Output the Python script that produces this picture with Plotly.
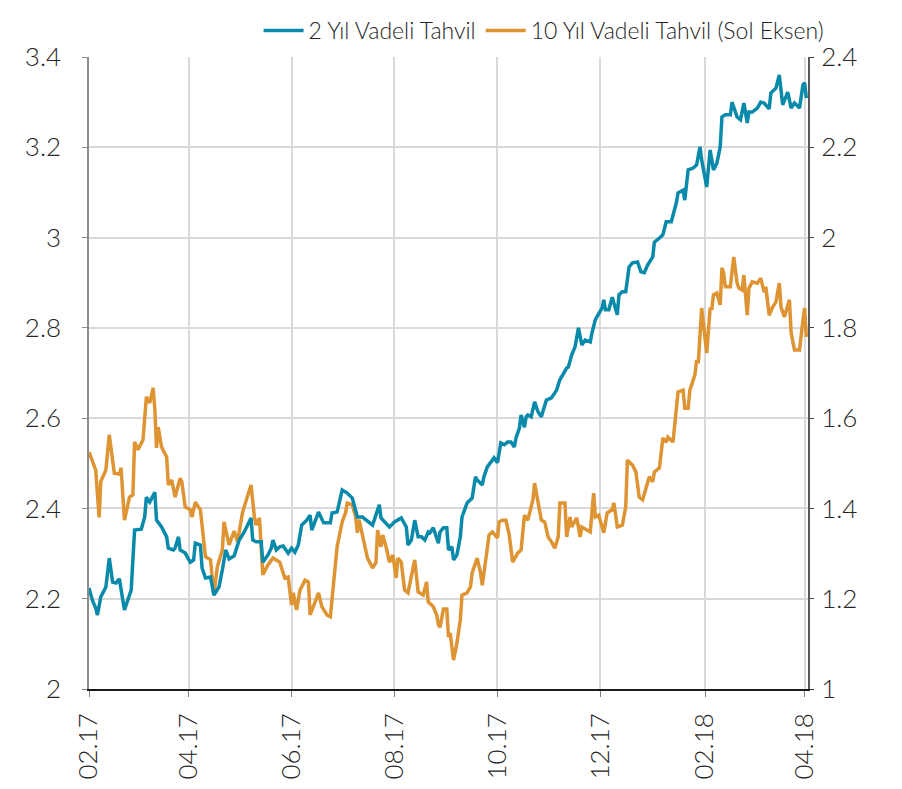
import pandas as pd
import plotly.graph_objects as go

START = "2017-02-01"

# 2 Yıl Vadeli Tahvil (right axis) – days since 2017-02-01 and yields
blue_days = [0, 2, 4, 5, 7, 10, 12, 14, 16, 18, 21, 25, 27, 31, 33, 34, 36, 39, 40, 43,
             46, 47, 50, 51, 53, 54, 57, 60, 62, 63, 66, 67, 69, 72, 74, 77, 79, 81, 83, 86,
             89, 92, 96, 97, 99, 102, 103, 106, 108, 109, 111, 113, 115, 118, 120, 122, 124, 126, 129, 131,
             132, 134, 136, 139, 143, 144, 147, 150, 153, 156, 157, 159, 162, 166, 168, 169, 172, 173, 175, 178,
             181, 183, 185, 188, 189, 191, 193, 195, 197, 199, 201, 202, 204, 207, 208, 210, 212, 213, 215, 216,
             218, 220, 221, 224, 227, 229, 230, 233, 234, 236, 239, 240, 242, 244, 246, 248, 250, 252, 253, 255,
             256, 258, 259, 260, 262, 264, 266, 268, 271, 274, 276, 277, 279, 281, 283, 284, 286, 288, 290, 292,
             294, 297, 298, 300, 301, 304, 305, 306, 308, 310, 313, 314, 316, 318, 320, 322, 325, 327, 329, 331,
             334, 335, 338, 340, 342, 343, 345, 348, 349, 352, 353, 355, 358, 360, 362, 363, 366, 368, 370, 372,
             374, 375, 377, 380, 381, 384, 386, 388, 390, 391, 393, 396, 398, 400, 403, 404, 407, 409, 410, 411,
             414, 416, 418, 421, 423, 424, 425]
blue_vals = [1.224, 1.197, 1.179, 1.164, 1.204, 1.226, 1.29, 1.237, 1.235, 1.244, 1.175, 1.219, 1.352, 1.354, 1.381, 1.425, 1.414, 1.436, 1.374, 1.359,
             1.337, 1.312, 1.308, 1.312, 1.337, 1.308, 1.301, 1.281, 1.286, 1.323, 1.319, 1.268, 1.246, 1.248, 1.208, 1.226, 1.264, 1.308, 1.288, 1.295,
             1.33, 1.348, 1.379, 1.33, 1.326, 1.326, 1.281, 1.297, 1.312, 1.33, 1.308, 1.315, 1.317, 1.301, 1.312, 1.303, 1.319, 1.363, 1.374, 1.385,
             1.352, 1.37, 1.392, 1.368, 1.368, 1.39, 1.392, 1.441, 1.434, 1.423, 1.408, 1.381, 1.381, 1.37, 1.363, 1.374, 1.408, 1.379, 1.37, 1.359,
             1.37, 1.374, 1.379, 1.359, 1.319, 1.33, 1.374, 1.337, 1.337, 1.33, 1.348, 1.346, 1.357, 1.323, 1.348, 1.357, 1.357, 1.308, 1.315, 1.286,
             1.297, 1.337, 1.381, 1.412, 1.423, 1.47, 1.463, 1.452, 1.47, 1.492, 1.507, 1.512, 1.501, 1.545, 1.541, 1.547, 1.547, 1.536, 1.556, 1.578,
             1.607, 1.58, 1.603, 1.607, 1.603, 1.636, 1.614, 1.603, 1.64, 1.645, 1.656, 1.662, 1.685, 1.7, 1.711, 1.713, 1.74, 1.758, 1.8, 1.762,
             1.773, 1.769, 1.789, 1.818, 1.824, 1.844, 1.862, 1.84, 1.84, 1.868, 1.829, 1.873, 1.88, 1.88, 1.935, 1.944, 1.946, 1.924, 1.922, 1.939,
             1.957, 1.99, 1.999, 2.006, 2.035, 2.035, 2.035, 2.077, 2.099, 2.105, 2.083, 2.15, 2.154, 2.161, 2.201, 2.172, 2.112, 2.194, 2.15, 2.165,
             2.201, 2.267, 2.272, 2.272, 2.3, 2.267, 2.261, 2.298, 2.254, 2.278, 2.278, 2.287, 2.3, 2.298, 2.285, 2.32, 2.331, 2.36, 2.32, 2.294,
             2.322, 2.287, 2.298, 2.287, 2.338, 2.343, 2.309]

# 10 Yıl Vadeli Tahvil (left axis)
orange_days = [0, 4, 6, 7, 10, 12, 15, 18, 19, 21, 24, 26, 27, 29, 32, 34, 36, 38, 39, 40,
               41, 43, 46, 47, 49, 51, 54, 55, 57, 60, 61, 63, 66, 69, 72, 74, 76, 79, 80, 83,
               86, 88, 91, 94, 96, 98, 99, 101, 103, 106, 109, 113, 116, 118, 120, 121, 123, 125, 128, 130,
               131, 134, 136, 138, 141, 143, 145, 147, 150, 152, 153, 156, 158, 159, 160, 165, 168, 170, 171, 173,
               174, 176, 178, 180, 182, 183, 185, 187, 189, 191, 193, 195, 198, 200, 201, 204, 206, 207, 208, 210,
               212, 213, 214, 216, 218, 220, 221, 224, 226, 227, 230, 232, 233, 236, 237, 239, 242, 243, 245, 247,
               249, 251, 254, 256, 258, 260, 263, 264, 266, 268, 270, 272, 274, 276, 278, 279, 282, 283, 285, 286,
               289, 291, 292, 295, 297, 299, 300, 302, 305, 307, 310, 311, 313, 316, 318, 319, 322, 324, 326, 328,
               330, 332, 334, 335, 338, 340, 342, 343, 346, 349, 352, 353, 355, 356, 359, 360, 361, 363, 366, 368,
               369, 370, 372, 374, 375, 376, 377, 380, 382, 384, 385, 387, 388, 390, 391, 393, 396, 398, 400, 401,
               403, 405, 407, 409, 410, 412, 415, 416, 418, 421, 423, 424, 425]
orange_vals = [2.525, 2.485, 2.38, 2.46, 2.485, 2.563, 2.478, 2.476, 2.49, 2.374, 2.425, 2.43, 2.547, 2.53, 2.552, 2.647, 2.634, 2.667, 2.62, 2.534,
               2.58, 2.536, 2.514, 2.452, 2.463, 2.425, 2.467, 2.459, 2.403, 2.397, 2.381, 2.414, 2.397, 2.293, 2.286, 2.208, 2.27, 2.308, 2.37, 2.319,
               2.35, 2.326, 2.392, 2.425, 2.452, 2.381, 2.363, 2.379, 2.253, 2.275, 2.29, 2.281, 2.246, 2.248, 2.186, 2.213, 2.175, 2.219, 2.241, 2.237,
               2.164, 2.193, 2.213, 2.182, 2.164, 2.16, 2.23, 2.315, 2.37, 2.39, 2.412, 2.408, 2.381, 2.346, 2.375, 2.29, 2.268, 2.28, 2.352, 2.315,
               2.341, 2.315, 2.281, 2.297, 2.246, 2.29, 2.281, 2.219, 2.213, 2.248, 2.286, 2.215, 2.208, 2.237, 2.193, 2.182, 2.164, 2.142, 2.137, 2.177,
               2.177, 2.115, 2.124, 2.064, 2.102, 2.153, 2.208, 2.213, 2.226, 2.257, 2.29, 2.257, 2.23, 2.312, 2.341, 2.348, 2.335, 2.37, 2.374, 2.374,
               2.341, 2.281, 2.301, 2.308, 2.385, 2.374, 2.419, 2.456, 2.412, 2.374, 2.37, 2.337, 2.326, 2.312, 2.337, 2.412, 2.412, 2.337, 2.381, 2.359,
               2.379, 2.337, 2.359, 2.352, 2.348, 2.434, 2.381, 2.385, 2.346, 2.39, 2.397, 2.412, 2.359, 2.363, 2.403, 2.507, 2.496, 2.481, 2.425, 2.419,
               2.448, 2.47, 2.459, 2.481, 2.49, 2.556, 2.547, 2.558, 2.547, 2.658, 2.662, 2.622, 2.622, 2.662, 2.696, 2.729, 2.722, 2.844, 2.744, 2.844,
               2.84, 2.873, 2.877, 2.851, 2.933, 2.922, 2.891, 2.891, 2.957, 2.899, 2.888, 2.884, 2.917, 2.828, 2.888, 2.902, 2.899, 2.91, 2.879, 2.891,
               2.828, 2.846, 2.857, 2.899, 2.846, 2.824, 2.862, 2.789, 2.751, 2.751, 2.817, 2.844, 2.78]

tick_dates = ["2017-02-01", "2017-04-01", "2017-06-01", "2017-08-01",
              "2017-10-01", "2017-12-01", "2018-02-01", "2018-04-01"]

blue_name = "2 Yıl Vadeli Tahvil"
orange_name = "10 Yıl Vadeli Tahvil (Sol Eksen)"

start = pd.Timestamp(START)
blue_x = start + pd.to_timedelta(blue_days, unit="D")
orange_x = start + pd.to_timedelta(orange_days, unit="D")

BLUE = "#0a8aaa"
ORANGE = "#de9433"
FONT = "Lato"
TXT = "#262626"
TICKFONT = dict(family=FONT, size=26, color=TXT, weight=300)

fig = go.Figure()
fig.add_trace(go.Scatter(x=blue_x, y=blue_vals, name=blue_name, mode="lines",
                         line=dict(color=BLUE, width=3.5), yaxis="y2"))
fig.add_trace(go.Scatter(x=orange_x, y=orange_vals, name=orange_name, mode="lines",
                         line=dict(color=ORANGE, width=3.5), yaxis="y"))

fig.update_layout(
    width=894, height=781,
    margin=dict(l=81, r=94, t=49, b=100, autoexpand=False),
    paper_bgcolor="white", plot_bgcolor="white",
    font=dict(family=FONT, size=24, color=TXT, weight=300),
    showlegend=True,
    legend=dict(orientation="h", x=1.03, xanchor="right", y=1.076, yanchor="top",
                font=dict(family=FONT, size=23, color=TXT, weight=300),
                itemwidth=40, tracegroupgap=0, bgcolor="rgba(0,0,0,0)"),
    xaxis=dict(type="date", range=[START, "2018-04-03"],
               tickvals=tick_dates, tickformat="%m.%y", tickangle=-90,
               showgrid=True, gridcolor="#d9d9d9", gridwidth=1.5,
               showline=True, linecolor="#1a1a1a", linewidth=1.5,
               ticks="outside", ticklen=6, tickcolor="#7f7f7f",
               tickfont=TICKFONT, zeroline=False, automargin=False,
               ticklabelstandoff=6),
    yaxis=dict(range=[2, 3.4], dtick=0.2, tick0=2,
               showgrid=True, gridcolor="#d9d9d9", gridwidth=1.5,
               showline=True, linecolor="#8c8c8c", linewidth=1.5,
               ticks="outside", ticklen=5, tickcolor="#8c8c8c",
               zeroline=False, tickfont=TICKFONT, automargin=False,
               ticklabelstandoff=16),
    yaxis2=dict(range=[1, 2.4], dtick=0.2, tick0=1, overlaying="y", side="right",
                showgrid=False, showline=True, linecolor="#595959", linewidth=2,
                ticks="outside", ticklen=4, tickcolor="#404040",
                zeroline=False, tickfont=TICKFONT, automargin=False,
                ticklabelstandoff=2),
)

fig.write_html("out.html")
